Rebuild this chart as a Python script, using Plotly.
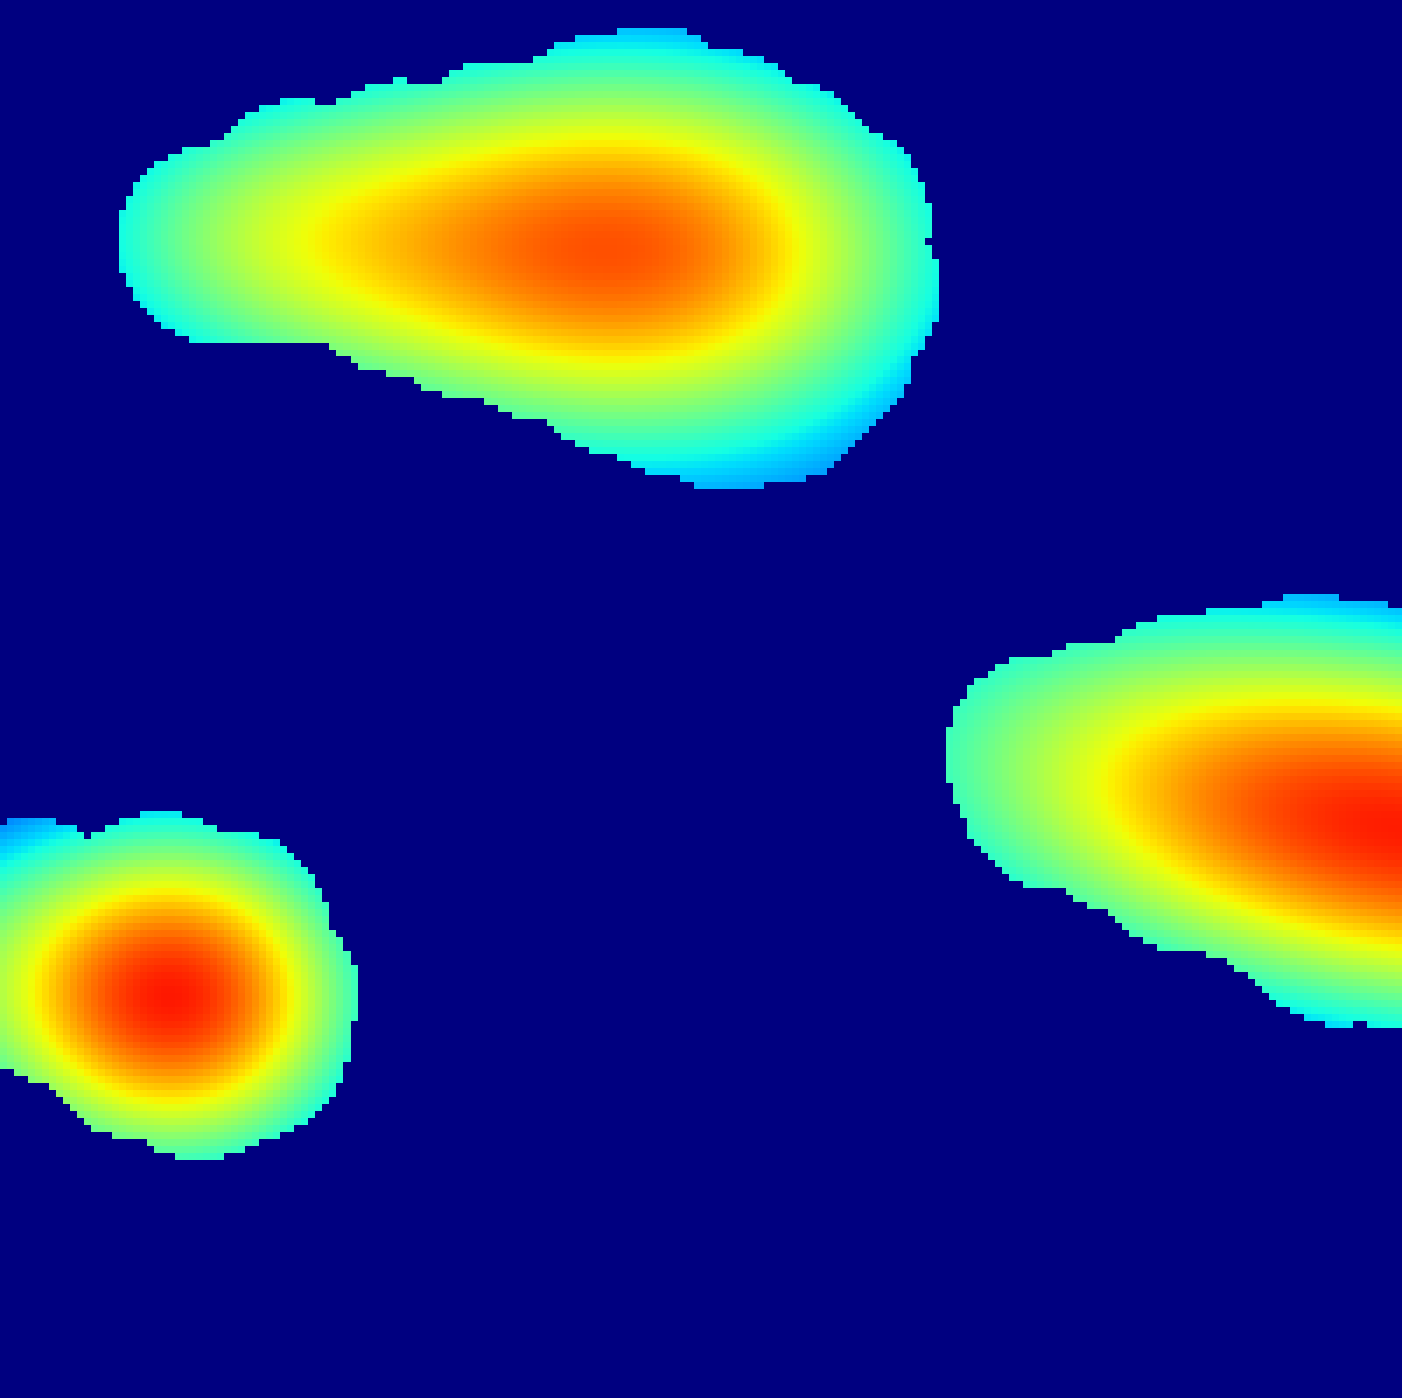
import numpy as np
import plotly.graph_objects as go

# ---- data (pixel units of the 1402x1398 canvas) ----
# smooth density components: centre, spread along/across the main axis, tilt (deg), peak level
comp_x = [635, 230, 1400, 177, -100]
comp_y = [250, 235, 828, 997, 960]
comp_sx = [245, 170, 380, 148, 120]
comp_sy = [160, 120, 150, 135, 120]
comp_angle = [0, 0, 10, 0, 0]
comp_amp = [0.80, 0.35, 0.88, 0.87, 0.20]

# support points: cells farther than support_radius from all of them are empty
support_x = [218, 260, 320, 300, 400, 500, 600, 650, 720, 780, 830, 840, 815, 775, 730, 680, 620, 540, 470, 400,
             400, 500, 600, 700, 600, 500, 700, 750, 700, 550,
             1045, 1060, 1130, 1190, 1240, 1290, 1340, 1402, 1460, 1100, 1180, 1245, 1310, 1360, 1402, 1460,
             1150, 1250, 1350, 1300, 1200, 1400, 1460,
             258, 230, 160, 100, 30, -30, 200, 250, 140, 60, 0, 150, 80]
support_y = [243, 245, 245, 200, 180, 160, 135, 125, 150, 180, 220, 290, 345, 385, 392, 378, 355, 320, 300, 275,
             230, 230, 230, 250, 300, 280, 300, 250, 200, 200,
             755, 790, 815, 852, 860, 885, 925, 930, 930, 740, 715, 705, 693, 700, 710, 710,
             780, 800, 800, 850, 780, 800, 820,
             995, 930, 912, 935, 918, 930, 1060, 1040, 1040, 985, 960, 990, 960]
support_radius = 100

W, H = 1402, 1398
NX, NY = 200, 200

xc = (np.arange(NX) + 0.5) * W / NX
yc = (np.arange(NY) + 0.5) * H / NY
X, Y = np.meshgrid(xc, yc)

Z = np.zeros_like(X)
for cx, cy, sx, sy, ang, amp in zip(comp_x, comp_y, comp_sx, comp_sy, comp_angle, comp_amp):
    t = np.deg2rad(ang)
    dx, dy = X - cx, Y - cy
    u = dx * np.cos(t) + dy * np.sin(t)
    w = -dx * np.sin(t) + dy * np.cos(t)
    Z += amp * np.exp(-(u ** 2) / (2 * sx ** 2) - (w ** 2) / (2 * sy ** 2))

mask = np.zeros_like(X, dtype=bool)
for px, py in zip(support_x, support_y):
    mask |= (X - px) ** 2 + (Y - py) ** 2 < support_radius ** 2
Z = np.where(mask, np.clip(Z, 0, 1), 0.0)

# matplotlib-style jet colour scale
def seg(v, pts):
    xs = [p[0] for p in pts]
    ys = [p[1] for p in pts]
    return float(np.interp(v, xs, ys))

R = [(0, 0), (0.35, 0), (0.66, 1), (0.89, 1), (1, 0.5)]
G = [(0, 0), (0.125, 0), (0.375, 1), (0.64, 1), (0.91, 0), (1, 0)]
B = [(0, 0.5), (0.11, 1), (0.34, 1), (0.65, 0), (1, 0)]
stops = np.linspace(0, 1, 65)
jet = [[float(s), "rgb(%d,%d,%d)" % (round(255 * seg(s, R)), round(255 * seg(s, G)), round(255 * seg(s, B)))]
       for s in stops]

fig = go.Figure(go.Heatmap(x=xc, y=yc, z=Z, colorscale=jet, zmin=0, zmax=1,
                           showscale=False, zsmooth=False, hoverinfo="skip"))
fig.update_layout(width=W, height=H, margin=dict(l=0, r=0, t=0, b=0),
                  paper_bgcolor="rgb(0,0,128)", plot_bgcolor="rgb(0,0,128)",
                  xaxis=dict(range=[0, W], visible=False),
                  yaxis=dict(range=[H, 0], visible=False))
fig.write_html("out.html")
